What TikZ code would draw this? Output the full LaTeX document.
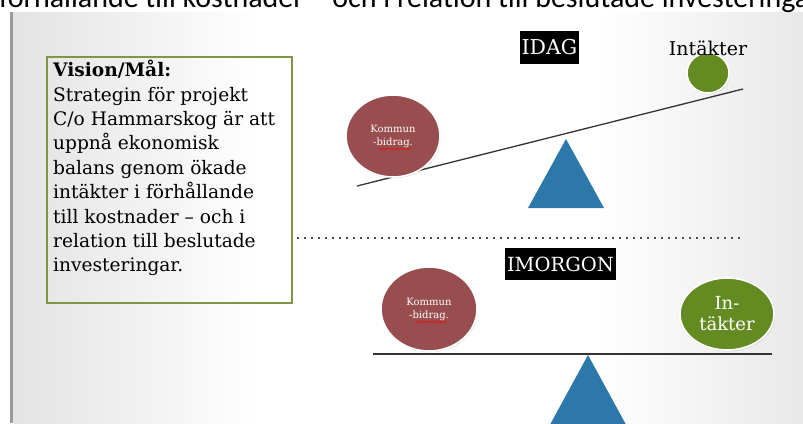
\documentclass[tikz,border=0pt]{standalone}
\usepackage{fontspec}
\setmainfont{DejaVu Serif}
\newfontfamily\capfont{Carlito}
\usepackage{xcolor}
\usetikzlibrary{calc,shapes.geometric,shadows,decorations.pathmorphing}

\definecolor{kommunred}{RGB}{152,78,78}
\definecolor{intgreen}{RGB}{100,138,34}
\definecolor{fulcblue}{RGB}{44,120,168}
\definecolor{boxgreen}{RGB}{122,152,72}

\begin{document}
\begin{tikzpicture}[x=1pt,y=-1pt,
  weight/.style={ellipse,draw=white,line width=1.6pt,inner sep=0pt,text=white,align=center,
    drop shadow={opacity=0.18,shadow xshift=1pt,shadow yshift=-1.5pt}},
  daylabel/.style={fill=black,text=white,inner sep=0pt,font=\fontsize{20.5}{22}\selectfont},
  beam/.style={line width=1.3pt,black!80},
  vistext/.style={anchor=north west,inner sep=0pt,align=left,font=\fontsize{18.6}{24.4}\selectfont}]
  \useasboundingbox (0,0) rectangle (803,423);
  % slide background: light grey to the left and right, white in the middle
  \fill[white] (0,0) rectangle (803,423);
  \shade[left color=black!11,right color=white] (13,12) rectangle (260,423);
  \shade[left color=white,right color=black!9] (600,12) rectangle (803,423);
  \fill[black!40] (10,12) rectangle (13,423);
  % caption of the page above, cut off by the slide
  \node[anchor=base west,inner sep=0pt,font=\capfont\fontsize{30}{31}\selectfont] (cuttext) at (-1,7)
    {förhållande till kostnader – och i relation till beslutade investeringar};

  % vision box
  \draw[boxgreen,line width=1.3pt] (47,57) rectangle (292,303);
  \node[vistext] (vision) at (53,60)
    {\textbf{Vision/Mål:}\\Strategin för projekt\\C/o Hammarskog är att\\uppnå ekonomisk\\balans genom ökade\\intäkter i förhållande\\till kostnader – och i\\relation till beslutade\\investeringar.};

  % IDAG: tilted beam
  \node[daylabel,minimum width=59pt,minimum height=33pt] (idag) at (549.5,47.5) {IDAG};
  \fill[fulcblue] (566,139) -- (604,208) -- (528,208) -- cycle;
  \coordinate (beamAl) at (357,186);
  \coordinate (beamAr) at (743,89);
  \draw[beam] (beamAl) -- (beamAr);
  \node[weight,fill=kommunred,minimum width=94pt,minimum height=82pt,font=\fontsize{10}{13}\selectfont]
    (kommunA) at (393,136) {Kommun\\-bidrag.};
  \node[weight,fill=intgreen,minimum width=42pt,minimum height=40pt] (intA) at (708,73) {};
  \node[font=\fontsize{19}{20}\selectfont,anchor=base] (intlabelA) at (708,55) {Intäkter};
  \draw[red,decorate,decoration={snake,amplitude=0.8pt,segment length=3pt}]
    ($(kommunA.center)+(-14,13)$) -- ($(kommunA.center)+(18,13)$);

  % separator
  \draw[black!70,line width=2.4pt,dash pattern=on 2.4pt off 4.6pt] (297,238) -- (742,238);

  % IMORGON: level beam
  \node[daylabel,font=\fontsize{19.5}{21}\selectfont,minimum width=111pt,minimum height=32pt] (imorgon) at (560.5,264) {IMORGON};
  \fill[fulcblue] (588,355) -- (630,432) -- (546,432) -- cycle;
  \coordinate (beamBl) at (373,354);
  \coordinate (beamBr) at (772,354);
  \draw[beam] (beamBl) -- (beamBr);
  \node[weight,fill=kommunred,minimum width=96pt,minimum height=84pt,font=\fontsize{10}{13}\selectfont]
    (kommunB) at (429,309) {Kommun\\-bidrag.};
  \draw[red,decorate,decoration={snake,amplitude=0.8pt,segment length=3pt}]
    ($(kommunB.center)+(-14,13)$) -- ($(kommunB.center)+(18,13)$);
  \node[weight,fill=intgreen,minimum width=94pt,minimum height=72pt,font=\fontsize{18}{21}\selectfont]
    (intB) at (727,314) {In-\\täkter};
\end{tikzpicture}
\end{document}
